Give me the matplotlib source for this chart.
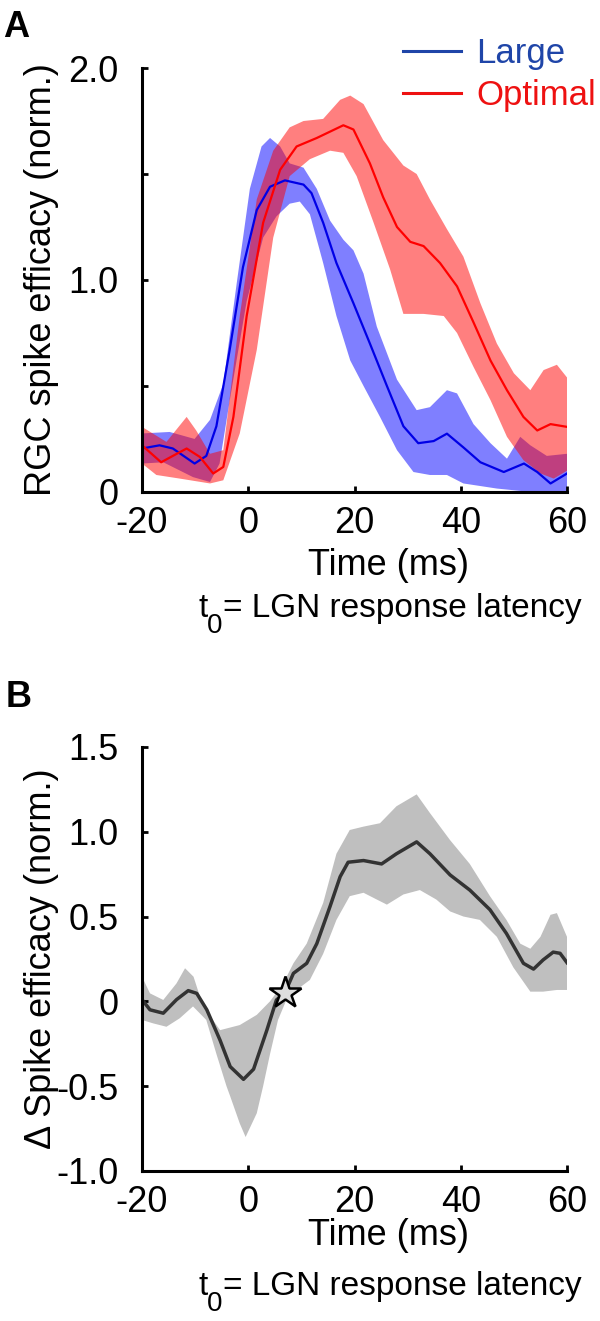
import numpy as np
import matplotlib
matplotlib.use("Agg")
from matplotlib import pyplot as plt
from matplotlib.lines import Line2D

plt.rcParams['font.family'] = ['Liberation Sans', 'DejaVu Sans']

# Panel A: RGC spike efficacy, mean and band edges (time in ms)
t_large = [-20, -16.7, -14.2, -10.1, -7.9, -6.0, -3.5, -1.0, 1.6, 4.1, 6.9, 10.4, 11.9, 14.1, 16.6,
           19.8, 22.9, 26.1, 29.2, 32.0, 34.9, 37.4, 40.5, 43.7, 48.1, 51.9, 54.4, 56.9, 60]
large = [0.205, 0.22, 0.205, 0.134, 0.17, 0.31, 0.67, 1.06, 1.33, 1.44, 1.47, 1.45, 1.41, 1.27, 1.08,
         0.89, 0.70, 0.50, 0.31, 0.23, 0.24, 0.275, 0.21, 0.14, 0.094, 0.134, 0.094, 0.04, 0.087]
t_large_hi = [-20, -14.8, -10.1, -7.2, -4.7, -2.2, 0.3, 2.5, 4.1, 6.0, 7.8, 10.4, 12.9, 15.4, 17.9,
              19.8, 21.7, 24.2, 28.0, 31.7, 34.2, 37.4, 39.3, 42.4, 45.6, 48.7, 51.2, 53.1, 56.2, 60]
large_hi = [0.276, 0.283, 0.25, 0.34, 0.51, 0.98, 1.43, 1.63, 1.67, 1.63, 1.55, 1.53, 1.43, 1.28, 1.19,
            1.14, 1.03, 0.78, 0.53, 0.386, 0.40, 0.48, 0.465, 0.32, 0.23, 0.157, 0.26, 0.22, 0.17, 0.18]
t_large_lo = [-20, -16.0, -10.4, -7.2, -5.4, -3.5, -0.3, 2.8, 5.3, 7.8, 9.7, 11.6, 14.1, 16.6, 19.2,
              21.7, 24.8, 28.0, 31.1, 34.2, 37.4, 40.5, 46.8, 53.1, 60]
large_lo = [0.134, 0.14, 0.07, 0.047, 0.134, 0.43, 0.9, 1.2, 1.30, 1.36, 1.37, 1.31, 1.08, 0.83, 0.62,
            0.50, 0.354, 0.197, 0.094, 0.08, 0.08, 0.04, 0.016, 0.0, 0.0]

t_opt = [-20, -16.4, -14.2, -11.6, -9.1, -6.6, -4.7, -2.8, -0.3, 2.8, 6.0, 9.1, 12.9, 15.4, 17.9,
         19.8, 22.9, 25.4, 28.0, 30.5, 33.0, 36.1, 39.3, 42.4, 45.6, 48.7, 51.8, 54.4, 56.9, 60]
opt = [0.22, 0.14, 0.17, 0.205, 0.165, 0.087, 0.118, 0.354, 0.83, 1.27, 1.52, 1.63, 1.67, 1.70, 1.73,
       1.71, 1.55, 1.39, 1.25, 1.18, 1.16, 1.08, 0.97, 0.80, 0.62, 0.48, 0.354, 0.29, 0.32, 0.307]
t_opt_hi = [-20, -15.4, -11.6, -9.8, -7.2, -4.7, -1.6, 1.6, 4.7, 7.8, 10.4, 14.1, 17.3, 19.2, 21.7,
            25.4, 29.2, 31.7, 34.2, 37.4, 40.5, 43.7, 46.8, 50.0, 53.1, 55.6, 58.1, 60]
opt_hi = [0.307, 0.236, 0.354, 0.29, 0.18, 0.197, 0.83, 1.38, 1.61, 1.72, 1.75, 1.76, 1.85, 1.87, 1.83,
          1.66, 1.54, 1.50, 1.38, 1.24, 1.11, 0.89, 0.70, 0.56, 0.48, 0.575, 0.60, 0.54]
t_opt_lo = [-20, -17.3, -12.9, -7.2, -4.7, -1.6, 1.6, 4.7, 7.8, 11.6, 15.4, 17.9, 20.4, 23.6, 26.7,
            29.2, 33.0, 36.8, 39.3, 42.4, 45.6, 48.7, 51.8, 55.0, 57.5, 60]
opt_lo = [0.134, 0.08, 0.063, 0.04, 0.055, 0.276, 0.67, 1.2, 1.49, 1.57, 1.61, 1.60, 1.49, 1.27, 1.05,
          0.84, 0.84, 0.83, 0.75, 0.59, 0.433, 0.26, 0.15, 0.087, 0.063, 0.10]

# Panel B: difference in spike efficacy
t_diff = [-20, -18.5, -16.0, -13.5, -11.3, -9.7, -7.8, -5.3, -3.4, -0.9, 1.0, 3.5, 5.3, 6.9, 8.5, 11.0,
          12.9, 15.4, 17.3, 18.8, 21.7, 25.1, 27.9, 31.7, 34.2, 38.0, 41.7, 45.5, 48.6, 51.8, 53.7,
          55.5, 57.4, 58.7, 60]
diff = [0.01, -0.05, -0.07, 0.01, 0.063, 0.047, -0.05, -0.23, -0.385, -0.46, -0.40, -0.17, 0.008, 0.05,
        0.165, 0.224, 0.34, 0.56, 0.735, 0.82, 0.83, 0.81, 0.87, 0.94, 0.87, 0.745, 0.656, 0.54, 0.40,
        0.224, 0.19, 0.244, 0.29, 0.283, 0.228]
t_diff_hi = [-20, -18.5, -16.0, -13.5, -11.9, -10.3, -8.5, -5.3, -1.6, 1.6, 4.1, 6.6, 8.5, 11.0, 14.1,
             16.6, 19.1, 21.7, 24.8, 27.9, 31.7, 34.2, 38.0, 41.7, 45.5, 48.6, 51.2, 53.1, 55.0, 56.9,
             58.1, 60]
diff_hi = [0.145, 0.047, 0.008, 0.106, 0.195, 0.145, -0.03, -0.17, -0.14, -0.08, 0.0, 0.106, 0.224, 0.34,
           0.58, 0.87, 1.01, 1.03, 1.05, 1.15, 1.22, 1.11, 0.95, 0.81, 0.62, 0.48, 0.34, 0.31, 0.38, 0.51,
           0.52, 0.38]
t_diff_lo = [-20, -17.9, -15.4, -12.9, -10.4, -7.9, -6.0, -4.1, -3.4, -1.6, -0.5, 1.6, 2.8, 4.1, 5.6,
             7.2, 9.1, 11.6, 14.1, 16.6, 19.1, 21.7, 24.2, 26.1, 29.2, 32.3, 35.4, 38.0, 40.5, 43.6,
             46.8, 49.9, 53.1, 55.5, 58.1, 60]
diff_lo = [-0.11, -0.13, -0.15, -0.10, -0.03, -0.11, -0.31, -0.50, -0.56, -0.72, -0.80, -0.66, -0.50, -0.31,
           -0.11, 0.01, 0.067, 0.126, 0.28, 0.48, 0.62, 0.64, 0.60, 0.57, 0.63, 0.656, 0.60, 0.53, 0.50,
           0.48, 0.38, 0.20, 0.057, 0.057, 0.067, 0.067]
star_t = [7]
star_v = [0.05]

x_ticks = [-20, 0, 20, 40, 60]
a_yticks = [0, 0.5, 1.0, 1.5, 2.0]
a_ylabels = ['0', '', '1.0', '', '2.0']
b_yticks = [-1.0, -0.5, 0, 0.5, 1.0, 1.5]
b_ylabels = ['-1.0', '-0.5', '0', '0.5', '1.0', '1.5']

FS = 26

fig = plt.figure(figsize=(6, 13.21), dpi=100)
axA = fig.add_axes([0.2367, 0.6276, 0.7083, 0.3209])
axB = fig.add_axes([0.2367, 0.1136, 0.7083, 0.3210])


def band(ax, t_hi, hi, t_lo, lo, color, alpha):
    xs = np.concatenate([t_hi, t_lo[::-1]])
    ys = np.concatenate([hi, lo[::-1]])
    ax.fill(xs, ys, color=color, alpha=alpha, lw=0)


def latency_label(ax, x, y):
    # "t" + big subscript "0" + "= LGN response latency"
    t = ax.text(x, y, 't', transform=ax.transAxes, ha='left', va='baseline', fontsize=24)
    z = ax.annotate('0', xy=(1, 0), xycoords=t, xytext=(0, 8), textcoords='offset points',
                    ha='left', va='top', fontsize=20)
    ax.annotate('= LGN response latency', xy=(1, y), xycoords=(z, ax.transAxes),
                ha='left', va='baseline', fontsize=24)


band(axA, t_large_hi, large_hi, t_large_lo, large_lo, '#0000ff', 0.5)
band(axA, t_opt_hi, opt_hi, t_opt_lo, opt_lo, '#ff0000', 0.5)
axA.plot(t_large, large, color='#0000e6', lw=1.6)
axA.plot(t_opt, opt, color='#ff0000', lw=1.6)

band(axB, t_diff_hi, diff_hi, t_diff_lo, diff_lo, '#bfbfbf', 1.0)
axB.plot(t_diff, diff, color='#333333', lw=2.5)
axB.plot(star_t, star_v, marker='*', ms=24, mfc='#dddddd', mec='black', mew=1.8, ls='none')

for ax in (axA, axB):
    for s in ('top', 'right'):
        ax.spines[s].set_visible(False)
    for s in ('left', 'bottom'):
        ax.spines[s].set_linewidth(2.2)
    ax.set_xlim(-20, 60)
    ax.set_xticks(x_ticks)
    ax.set_xticklabels([str(v) for v in x_ticks])
    ax.tick_params(direction='in', length=4.5, width=2, labelsize=FS)
    ax.tick_params(axis='y', pad=17)
    ax.tick_params(axis='x', pad=10)

axA.set_ylim(0, 2)
axA.set_yticks(a_yticks)
axA.set_yticklabels(a_ylabels)
axB.set_ylim(-1, 1.5)
axB.set_yticks(b_yticks)
axB.set_yticklabels(b_ylabels)

axA.set_ylabel('RGC spike efficacy (norm.)', fontsize=FS)
axB.set_ylabel('\u0394 Spike efficacy (norm.)', fontsize=FS)
axA.yaxis.set_label_coords(-0.195, 0.5)
axB.yaxis.set_label_coords(-0.195, 0.5)

axA.text(0.579, -0.196, 'Time (ms)', transform=axA.transAxes, ha='center', va='baseline', fontsize=FS)
latency_label(axA, 0.132, -0.295)
axB.text(0.579, -0.1745, 'Time (ms)', transform=axB.transAxes, ha='center', va='baseline', fontsize=FS)
latency_label(axB, 0.132, -0.292)

handles = [Line2D([], [], color='#1f45a8', lw=2.2), Line2D([], [], color='#ee1111', lw=2.2)]
leg = axA.legend(handles, ['Large', 'Optimal'], loc='upper left', frameon=False, fontsize=25,
                 bbox_to_anchor=(403 / 600, 1 - 37 / 1321), bbox_transform=fig.transFigure,
                 borderpad=0, borderaxespad=0, handlelength=1.67, handletextpad=0.45,
                 labelspacing=0.25)
for txt, c in zip(leg.get_texts(), ['#1f45a8', '#ee1111']):
    txt.set_color(c)

fig.text(0.005, 1 - 37 / 1321, 'A', fontsize=FS, fontweight='bold', va='baseline')
fig.text(0.01, 1 - 707 / 1321, 'B', fontsize=FS, fontweight='bold', va='baseline')

fig.savefig('out.png', dpi=100)
